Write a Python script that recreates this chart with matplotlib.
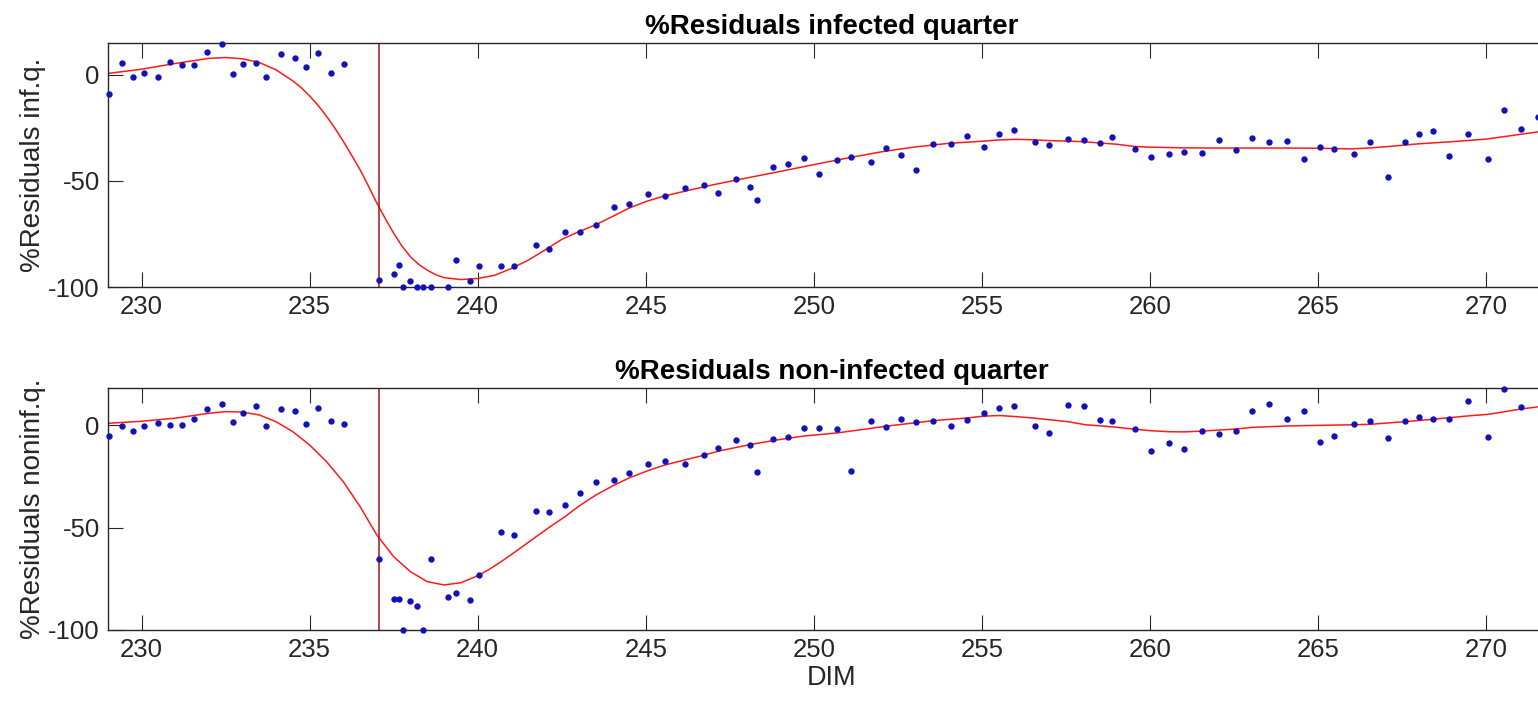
import matplotlib.pyplot as plt

plt.rcParams['font.family'] = ['Liberation Sans', 'DejaVu Sans']
plt.rcParams['axes.unicode_minus'] = False

# days in milk of each sample (shared by both quarters)
dim = [229.04, 229.41, 229.73, 230.06, 230.49, 230.85, 231.19, 231.55, 231.96, 232.39,
       232.71, 233.03, 233.40, 233.71, 234.14, 234.55, 234.88, 235.26, 235.65, 236.03,
       237.07, 237.50, 237.65, 237.79, 237.99, 238.18, 238.36, 238.61, 239.12, 239.35,
       239.77, 240.04, 240.69, 241.08, 241.73, 242.13, 242.59, 243.03, 243.51, 244.06,
       244.51, 245.06, 245.56, 246.18, 246.73, 247.15, 247.68, 248.09, 248.30, 248.79,
       249.23, 249.70, 250.16, 250.69, 251.11, 251.69, 252.14, 252.58, 253.04, 253.56,
       254.09, 254.55, 255.05, 255.52, 255.97, 256.58, 257.00, 257.55, 258.05, 258.51,
       258.87, 259.55, 260.02, 260.56, 261.02, 261.56, 262.05, 262.56, 263.03, 263.55,
       264.07, 264.57, 265.05, 265.48, 266.07, 266.54, 267.07, 267.60, 268.00, 268.43,
       268.90, 269.45, 270.07, 270.53, 271.05, 271.55]

# % residuals, infected quarter
res_inf = [-9.1, 5.3, -1.4, 0.6, -1.1, 6.0, 4.4, 4.4, 10.7, 14.5,
           0.1, 5.0, 5.5, -1.4, 9.7, 7.6, 3.4, 9.9, 0.5, 5.0,
           -96.7, -93.9, -89.6, -100, -97.4, -100, -100, -100, -100, -87.5,
           -97.2, -90.3, -90.1, -89.9, -80.3, -82.0, -74.3, -74.0, -70.8, -62.2,
           -60.9, -56.3, -57.0, -53.5, -52.0, -55.7, -49.1, -52.7, -59.0, -43.7,
           -42.1, -39.5, -47.0, -40.4, -38.6, -41.3, -34.4, -38.0, -44.8, -32.8,
           -32.8, -28.7, -34.2, -27.9, -26.3, -31.9, -33.3, -30.3, -30.9, -32.0,
           -29.2, -34.9, -38.6, -37.2, -36.4, -36.8, -30.9, -35.7, -30.0, -31.9,
           -31.2, -39.6, -34.2, -35.2, -37.2, -31.7, -48.0, -31.7, -28.1, -26.8,
           -38.2, -28.2, -39.9, -16.9, -25.5, -20.0]

# % residuals, non-infected quarter
res_noninf = [-5.2, -0.2, -2.7, -0.4, 1.0, 0.4, 0.2, 3.0, 7.9, 10.5,
              1.6, 6.2, 9.3, -0.3, 8.0, 7.0, 0.7, 8.5, 2.3, 0.5,
              -65.3, -84.8, -84.8, -100, -85.8, -88.4, -100, -65.3, -83.7, -81.8,
              -85.5, -73.1, -52.1, -53.7, -42.0, -42.3, -39.0, -33.2, -27.5, -26.5,
              -23.1, -18.9, -17.3, -18.9, -14.3, -11.0, -7.1, -9.6, -22.6, -6.5,
              -5.5, -1.4, -1.1, -1.9, -22.1, 2.3, -0.9, 3.3, 1.6, 2.3,
              -0.2, 2.5, 6.2, 8.5, 9.5, -0.3, -3.9, 9.8, 9.5, 2.5,
              2.3, -1.9, -12.3, -8.4, -11.4, -2.6, -4.2, -2.9, 7.2, 10.3,
              3.3, 7.2, -8.1, -5.3, 0.5, 2.3, -6.0, 2.1, 3.9, 3.3,
              3.3, 12.1, -5.5, 18.0, 9.0]

# smoothed fit, infected quarter
fit_inf_x = [229.0, 230, 231, 232, 232.5, 233, 233.5, 234, 234.5, 234.75, 235, 235.25,
             235.5, 235.75, 236, 236.25, 236.5, 236.75, 237, 237.25, 237.5, 237.75,
             238, 238.25, 238.5, 238.75, 239, 239.5, 240, 240.5, 241, 241.5, 242,
             242.5, 243, 243.5, 244, 244.5, 245, 245.5, 246, 247, 248, 249, 250, 251,
             252, 253, 254, 255, 255.5, 256, 256.5, 257, 257.5, 258, 258.5, 259, 259.5,
             260, 261, 262, 263, 264, 265, 266, 266.5, 267, 267.5, 268, 269, 270, 271, 272]
fit_inf_y = [0.5, 2.5, 5.2, 7.6, 8.0, 7.4, 5.7, 2.2, -3.0, -6.2, -10.1, -14.5,
             -19.6, -25.2, -31.4, -38.0, -44.8, -52.5, -60.5, -67.8, -74.7, -80.8,
             -85.8, -89.4, -92.1, -94.2, -95.6, -96.5, -96.0, -94.5, -91.3, -87.4, -82.6,
             -77.6, -74.0, -70.8, -66.9, -62.9, -59.8, -57.4, -55.5, -51.9, -48.7, -45.6, -42.4, -39.3,
             -36.4, -34.1, -32.4, -31.4, -30.8, -30.5, -30.7, -31.1, -31.3, -31.6, -32.2, -32.8, -33.8,
             -34.2, -34.5, -34.6, -34.6, -34.6, -34.7, -35.0, -34.6, -34.0, -33.3, -32.6, -31.6, -30.4, -28.2, -26.0]

# smoothed fit, non-infected quarter
fit_noninf_x = [229.0, 230, 231, 232, 232.5, 233, 233.5, 234, 234.5, 235, 235.5, 236,
                236.5, 237, 237.5, 238, 238.5, 239, 239.5, 240, 240.35, 240.7, 241.2,
                241.74, 242.2, 242.6, 243.0, 243.52, 244.07, 244.52, 245.07, 245.56,
                246.19, 246.73, 247.16, 248.10, 248.80, 249.71, 250.69, 251.69, 252.15,
                253.04, 253.56, 254.56, 255.05, 255.52, 256.0, 256.58, 257.09, 257.55,
                258.08, 258.87, 259.55, 260.02, 260.56, 261.02, 261.56, 262.05, 262.56,
                263.03, 264.07, 265.05, 266.07, 266.54, 267.60, 268.43, 269.45, 270.07,
                271.05, 272]
fit_noninf_y = [1.0, 2.0, 3.5, 5.9, 6.7, 6.5, 5.1, 1.8, -3.1, -9.6, -17.7, -27.5,
                -39.7, -53.6, -64.2, -71.5, -76.4, -78.0, -76.9, -73.5, -70.3, -66.6, -60.8,
                -54.4, -49.0, -44.6, -39.6, -34.0, -29.1, -25.6, -22.1, -19.4,
                -16.8, -14.6, -12.6, -9.4, -7.4, -5.2, -3.7, -1.5, -0.4,
                1.3, 2.3, 3.6, 4.5, 4.8, 4.3, 3.5, 2.6, 1.8,
                0.3, -0.7, -1.9, -2.6, -3.1, -3.2, -2.8, -2.3, -1.8,
                -1.0, -0.3, 0.0, 0.3, 0.5, 1.8, 3.0, 4.6, 5.4,
                8.0, 10.0]

onset_dim = 237.07

panels = [
    ("%Residuals infected quarter", "%Residuals inf.q.", res_inf,
     fit_inf_x, fit_inf_y, 14.6, [0.0702, 0.5929, 0.9415, 0.3454]),
    ("%Residuals non-infected quarter", "%Residuals noninf.q.", res_noninf,
     fit_noninf_x, fit_noninf_y, 18.1, [0.0702, 0.1064, 0.9415, 0.3428]),
]

fig = plt.figure(figsize=(15.38, 7.05), dpi=100)
axes = []
for title, ylabel, res, fx, fy, ytop, pos in panels:
    ax = fig.add_axes(pos)
    ax.plot(fx, fy, color='#ff1a1a', lw=1.1, zorder=2)
    ax.axvline(onset_dim, color='#a3141e', lw=1.1, zorder=2)
    ax.plot(dim[:len(res)], res, 'o', color='#1212b8', ms=4.6, mec='none',
            clip_on=False, zorder=3)
    ax.set_xlim(229.0, 272.08)
    ax.set_ylim(-100, ytop)
    ax.set_xticks([230, 235, 240, 245, 250, 255, 260, 265, 270])
    ax.set_yticks([-100, -50, 0])
    ax.tick_params(direction='in', length=10.5, width=0.8, top=True, right=True,
                   labelsize=18.5, colors='#262626', pad=6)
    for s in ax.spines.values():
        s.set_color('#262626')
        s.set_linewidth(1.0)
    ax.set_title(title, fontsize=20, fontweight='bold', pad=7)
    ax.set_ylabel(ylabel, fontsize=20, color='#262626')
    ax.yaxis.set_label_coords(-0.043, 0.5)
    axes.append(ax)

axes[1].set_xlabel("DIM", fontsize=19.5, color='#262626', labelpad=2)

fig.savefig("out.png", dpi=100)
